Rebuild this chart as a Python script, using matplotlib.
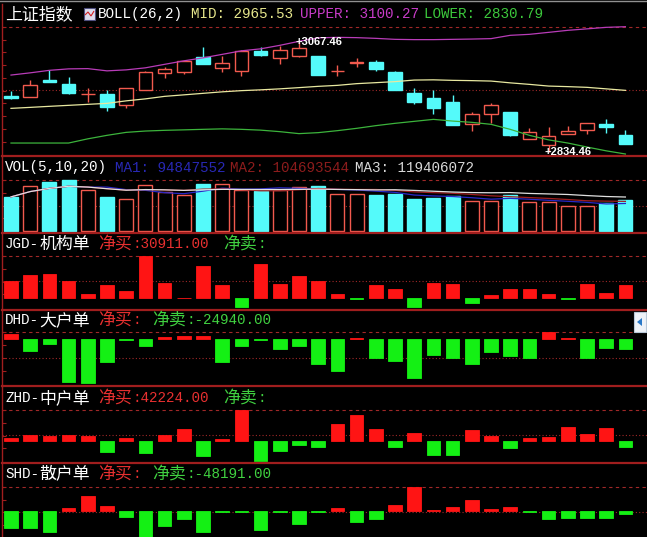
import matplotlib
matplotlib.use("Agg")
import matplotlib.pyplot as plt
from matplotlib.patches import Rectangle, Polygon
import numpy as np
import pandas as pd

W, H = 647, 537

# 上证指数 daily K-line
opens = [2952.8, 2951.3, 2986.7, 2979.7, 2957.1, 2958.5, 2934.4, 2967.0, 3003.0, 3005.1, 3036.0,
         3012.7, 3006.4, 3048.1, 3033.9, 3038.1, 3037.5, 3005.8, 3023.8, 3024.8, 3003.6, 2959.8,
         2950.1, 2941.6, 2893.6, 2916.2, 2920.4, 2863.3, 2850.6, 2873.9, 2881.5, 2895.0, 2871.8]
closes = [2949.7, 2977.6, 2982.5, 2959.8, 2958.1, 2930.2, 2971.3, 3003.6, 3010.0, 3028.4, 3022.1,
          3023.3, 3049.6, 3041.1, 3050.2, 3055.9, 2997.9, 3006.8, 3024.8, 3010.6, 2967.0, 2940.8,
          2928.1, 2892.9, 2916.2, 2935.3, 2871.8, 2878.1, 2869.6, 2879.4, 2897.2, 2887.8, 2851.9]
highs = [2963.4, 2986.7, 3009.4, 2994.5, 2971.3, 2965.5, 2971.3, 3006.4, 3015.7, 3028.4, 3057.2,
         3038.1, 3050.2, 3056.6, 3060.2, 3067.46, 3038.5, 3019.9, 3034.8, 3029.0, 3007.2, 2971.3,
         2965.5, 2956.4, 2919.6, 2938.7, 2920.4, 2886.6, 2887.8, 2890.8, 2897.2, 2904.1, 2882.3]
lows = [2946.5, 2951.3, 2982.5, 2958.5, 2940.8, 2921.7, 2928.1, 2967.0, 2992.4, 3000.9, 3022.1,
        3004.3, 2996.7, 3037.5, 3022.1, 3036.5, 2997.9, 2995.2, 3014.9, 3006.4, 2967.0, 2937.4,
        2916.2, 2892.9, 2878.7, 2896.3, 2869.6, 2863.3, 2834.46, 2873.9, 2873.9, 2876.0, 2851.9]

# BOLL(26,2)
boll_upper = [2997.9, 3002.6, 3007.9, 3011.0, 3011.5, 3006.8, 3008.9, 3013.2, 3020.6, 3028.0, 3034.3,
              3041.7, 3049.2, 3053.4, 3060.8, 3069.3, 3076.7, 3077.7, 3077.1, 3075.6, 3073.5, 3072.9,
              3072.9, 3073.5, 3074.1, 3075.0, 3082.0, 3084.1, 3088.3, 3092.6, 3095.7, 3098.9, 3100.27]
boll_mid = [2927.4, 2929.5, 2931.7, 2933.8, 2935.9, 2938.0, 2943.3, 2947.5, 2952.8, 2956.0, 2959.2,
            2962.4, 2964.9, 2966.6, 2968.7, 2971.3, 2974.0, 2976.1, 2979.7, 2981.8, 2984.0, 2987.3,
            2987.8, 2986.7, 2986.1, 2985.2, 2981.4, 2978.2, 2974.6, 2973.4, 2971.9, 2968.7, 2965.53]
boll_lower = [2854.0, 2854.0, 2854.0, 2854.0, 2862.9, 2870.3, 2876.6, 2879.4, 2880.9, 2881.9, 2883.0,
              2884.0, 2883.0, 2881.3, 2878.1, 2873.9, 2876.0, 2880.2, 2885.1, 2890.8, 2895.7, 2899.9,
              2904.1, 2900.5, 2897.8, 2893.6, 2883.0, 2870.3, 2860.7, 2854.0, 2845.5, 2837.5, 2830.79]

# volume, millions of shares
volumes = [119.7, 157.1, 172.1, 179.0, 143.1, 119.7, 111.7, 160.5, 137.2, 125.6, 164.0,
           164.0, 143.1, 142.0, 145.5, 153.6, 157.1, 131.6, 131.6, 125.6, 131.6, 110.6,
           116.2, 121.1, 104.7, 105.7, 125.6, 100.2, 102.3, 87.3, 87.3, 97.7, 108.2]

# net buy / sell by order size
jgd = [40200, 54150, 56470, 40200, 9990, 30910, 16970, 98310, 36490, 2000, 75070,
       30910, -19290, 79710, 33230, 51830, 40200, 9990, -2000, 30910, 20920, -19290,
       35560, 32540, -9990, 7670, 20920, 20920, 9990, -2000, 33230, 13250, 30911]
dhd = [12470, -30680, -11720, -105500, -107990, -55620, -2500, -18210, 4500, 8230, 6730,
       -55620, -18210, -2500, -24940, -18210, -60600, -78060, 3700, -45640, -53120, -97270,
       -39160, -45640, -60600, -33170, -43150, -47390, 16710, 2000, -45640, -23190, -24940]
zhd = [9600, 19200, 16000, 19200, 16000, -35200, 9600, -38400, 18240, 38400, -48960,
       6400, 98240, -64000, -32000, -13760, -20160, 53440, 82240, 38400, -19200, 24640,
       -45760, -45760, 34240, 15040, -23360, 9600, 12800, 44800, 21440, 41600, -19200]
shd = [-51900, -50100, -63900, 8100, 45000, 15000, -18900, -79500, -44100, -23100, -63900,
       -3000, -3000, -57000, -3000, -39900, -3000, 9900, -32100, -23100, 18900, 72900,
       3000, 12900, 33000, 6000, 12900, -3000, -23100, -20100, -20100, -20100, -9000]

RED = '#f25a4e'
CYAN = '#54fafa'
BAR_RED = '#ff1414'
BAR_GREEN = '#14f014'
DARK_RED = '#a01e1e'
GRID_RED = '#a02828'

n = len(opens)
idx = np.arange(n)
L = 2
X0, X1 = (L - 11) / 19.2, (W - 11) / 19.2

fig = plt.figure(figsize=(W / 100, H / 100), dpi=100, facecolor='black')


def make_panel(top, bottom, vmax, vmin, hi_px, lo_px, border=True):
    ax = fig.add_axes([L / W, 1 - bottom / H, (W - L) / W, (bottom - top) / H])
    ax.set_facecolor('none')
    u = (vmax - vmin) / (lo_px - hi_px)
    ax.set_ylim(vmin - (bottom - lo_px) * u, vmax + (hi_px - top) * u)
    ax.set_xlim(X0, X1)
    ax.spines['top'].set_visible(False)
    ax.spines['right'].set_visible(False)
    ax.spines['left'].set_color(DARK_RED)
    ax.spines['left'].set_linewidth(1)
    if border:
        ax.spines['bottom'].set_color(DARK_RED)
        ax.spines['bottom'].set_linewidth(1.6)
    else:
        ax.spines['bottom'].set_visible(False)
    ax.set_xticks([])
    ax.set_yticks(vmax - u * np.arange(0, lo_px - hi_px, 12.8))
    ax.set_yticklabels([])
    ax.tick_params(axis='y', direction='in', length=3, color=DARK_RED, width=0.8)
    # top of range dashed, middle of range dotted
    ax.axhline(vmax, color=GRID_RED, lw=0.8, ls=(0, (3, 3)), zorder=1)
    ax.axhline((vmax + vmin) / 2, color=GRID_RED, lw=0.8, ls=(0, (1, 2)), zorder=1)
    return ax


def put(x_px, y_px, s, color):
    # half-width ASCII, full-width CJK, like the terminal's font
    runs = []
    for ch in s:
        cjk = ord(ch) > 0x2000
        if runs and runs[-1][1] == cjk:
            runs[-1][0] += ch
        else:
            runs.append([ch, cjk])
    x = x_px
    for text, cjk in runs:
        if cjk:
            fig.text(x / W, 1 - y_px / H, text, color=color, fontsize=12.2,
                     family=['Noto Sans CJK SC', 'DejaVu Sans'], va='center', ha='left')
            x += 17.2 * len(text)
        else:
            fig.text(x / W, 1 - y_px / H, text, color=color, fontsize=10.3,
                     family=['Liberation Mono', 'DejaVu Sans Mono'], va='center', ha='left')
            x += 8.6 * len(text)


# main K-line panel
ax = make_panel(4, 155.5, max(boll_upper), min(boll_lower), 26.7, 154)
for i in range(n):
    up = closes[i] >= opens[i]
    c = RED if up else CYAN
    ax.vlines(i, lows[i], highs[i], color=c, lw=1, zorder=2)
    b = min(opens[i], closes[i])
    h = max(abs(closes[i] - opens[i]), 0.3)
    ax.add_patch(Rectangle((i - 0.35, b), 0.7, h, facecolor='black' if up else CYAN,
                           edgecolor=c, lw=1, zorder=3))
ax.plot(idx, boll_upper, color='#b83cb8', lw=0.9, zorder=4)
ax.plot(idx, boll_mid, color='#e8e8a0', lw=0.9, zorder=4)
ax.plot(idx, boll_lower, color='#3cb43c', lw=0.9, zorder=4)
hi_i = int(np.argmax(highs))
lo_i = int(np.argmin(lows))
ax.text(hi_i - 0.2, highs[hi_i], '+%.2f' % highs[hi_i], color='white', fontsize=8,
        fontweight='bold', family='Liberation Sans', ha='left', va='center', zorder=6)
ax.text(lo_i - 0.2, lows[lo_i], '+%.2f' % lows[lo_i], color='white', fontsize=8,
        fontweight='bold', family='Liberation Sans', ha='left', va='center', zorder=6)

put(5, 14, '上证指数', 'white')
fig.patches.append(Rectangle((84 / W, 1 - 20 / H), 11 / W, 12 / H, transform=fig.transFigure,
                             facecolor='#dcdcec', edgecolor='#505080', lw=0.8))
fig.patches.append(Polygon([(85 / W, 1 - 15 / H), (88 / W, 1 - 12 / H), (91 / W, 1 - 16 / H),
                            (94 / W, 1 - 11 / H)], closed=False, fill=False,
                           transform=fig.transFigure, edgecolor='#d02020', lw=0.8))
put(98, 14, 'BOLL(26,2)', 'white')
put(191, 14, 'MID: 2965.53', '#e6e68c')
put(300, 14, 'UPPER: 3100.27', '#c83cc8')
put(424, 14, 'LOWER: 2830.79', '#3cc83c')

# volume panel
vol = np.array(volumes) * 1e6
ax = make_panel(155.5, 232.5, vol.max(), 0, 180, 231)
for i in range(n):
    up = closes[i] >= opens[i]
    c = RED if up else CYAN
    ax.add_patch(Rectangle((i - 0.36, 0), 0.72, vol[i], facecolor='black' if up else CYAN,
                           edgecolor=c, lw=1, zorder=2))
vs = pd.Series(vol)
ax.plot(idx, vs.rolling(5, min_periods=1).mean(), color='#2828c8', lw=0.9, zorder=4)
ax.plot(idx, vs.rolling(10, min_periods=1).mean(), color='#a02020', lw=0.9, zorder=4)
ax.plot(idx, vs.rolling(20, min_periods=1).mean(), color='#e0e0e0', lw=0.9, zorder=4)
put(5, 167.5, 'VOL(5,10,20)', 'white')
put(115, 167.5, 'MA1: 94847552', '#2828b4')
put(230, 167.5, 'MA2: 104693544', '#8c1c1c')
put(355, 167.5, 'MA3: 119406072', '#d8d8d8')

# money flow panels
flows = [
    (jgd, 232.5, 309.5, 256, 306.7, True, 'JGD-机构单', '净买:30911.00', '净卖:', 244),
    (dhd, 309.5, 385.5, 332.3, 382.7, True, 'DHD-大户单', '净买:', '净卖:-24940.00', 320),
    (zhd, 385.5, 462.5, 410, 460.7, True, 'ZHD-中户单', '净买:42224.00', '净卖:', 398),
    (shd, 462.5, 537, 486.7, 537.3, False, 'SHD-散户单', '净买:', '净卖:-48191.00', 474),
]
for vals, top, bottom, hi_px, lo_px, border, name, buy, sell, ty in flows:
    v = np.array(vals, dtype=float)
    ax = make_panel(top, bottom, v.max(), v.min(), hi_px, lo_px, border)
    cols = [BAR_RED if x > 0 else BAR_GREEN for x in v]
    ax.bar(idx, v, width=0.7, color=cols, edgecolor=cols, lw=0.6, zorder=2)
    put(5, ty, name, 'white')
    put(98, ty, buy, '#e83030')
    put(223 if len(buy) > 3 else 152, ty, sell, '#40d040')

# small scroll button at the right edge
fig.patches.append(Rectangle((634 / W, 1 - 332 / H), 12 / W, 20 / H, transform=fig.transFigure,
                             facecolor='#eef2f8', edgecolor='#b8c8d8', lw=0.8))
fig.patches.append(Polygon([(637 / W, 1 - 322 / H), (642 / W, 1 - 318 / H), (642 / W, 1 - 326 / H)],
                           transform=fig.transFigure, facecolor='#2878c8', edgecolor='none'))

fig.add_artist(plt.Line2D([0, 1], [1 - 0.5 / H, 1 - 0.5 / H], color='#909090', lw=1,
                          transform=fig.transFigure))

fig.savefig('out.png', dpi=100, facecolor='black')
